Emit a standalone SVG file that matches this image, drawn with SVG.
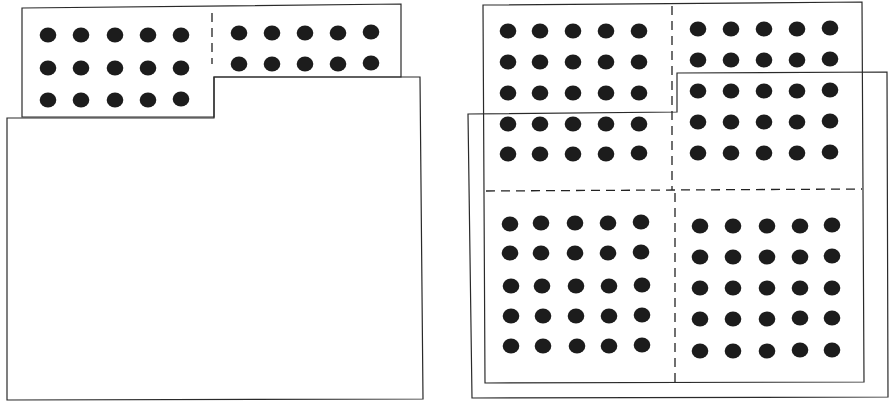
<svg xmlns="http://www.w3.org/2000/svg" xmlns:xlink="http://www.w3.org/1999/xlink" width="890" height="404" viewBox="0 0 890 404">
<style>
.sheet{fill:none;stroke:#2a2a2a;stroke-width:1.2;stroke-linejoin:miter}
.dash{fill:none;stroke:#222;stroke-width:1.3;stroke-dasharray:9 6}
.dot{fill:#1c1c1c}
</style>
<defs>
<ellipse id="d" class="dot" cx="0" cy="0" rx="8.3" ry="7.5"/>
</defs>
<rect width="890" height="404" fill="#ffffff"/>
<g id="left-panel">
<g id="left-lower-sheet">
<polygon class="sheet" points="7,118 214,118 214,77 420,77 423,399 7,400"/>
</g>
<g id="left-upper-sheet">
<polygon class="sheet" points="22,8 401,4 401,77 214,77 214,117 22,117"/>
<line class="dash" x1="212" y1="13" x2="212" y2="64"/>
</g>
<g id="left-dots-a">
<use href="#d" x="48" y="35"/><use href="#d" x="81" y="35"/><use href="#d" x="115" y="35"/><use href="#d" x="148" y="35"/><use href="#d" x="181" y="35"/>
<use href="#d" x="48" y="68"/><use href="#d" x="81" y="68"/><use href="#d" x="115" y="68"/><use href="#d" x="148" y="68"/><use href="#d" x="181" y="68"/>
<use href="#d" x="48" y="100"/><use href="#d" x="81" y="100"/><use href="#d" x="115" y="100"/><use href="#d" x="148" y="100"/><use href="#d" x="181" y="99"/>
</g>
<g id="left-dots-b">
<use href="#d" x="239" y="33"/><use href="#d" x="272" y="33"/><use href="#d" x="305" y="33"/><use href="#d" x="338" y="33"/><use href="#d" x="371" y="32"/>
<use href="#d" x="239" y="64"/><use href="#d" x="272" y="64"/><use href="#d" x="305" y="64"/><use href="#d" x="338" y="64"/><use href="#d" x="371" y="63"/>
</g>
</g>
<g id="right-panel">
<g id="right-sheet">
<polygon class="sheet" points="483,5 862,2 864,382 485,383"/>
<line class="dash" x1="672" y1="6" x2="672" y2="190"/>
<line class="dash" x1="675" y1="193" x2="675" y2="382"/>
<line class="dash" x1="486" y1="191" x2="862" y2="189"/>
</g>
<g id="right-overlay-sheet">
<polygon class="sheet" points="468,114 677,112 677,73 887,72 888,397 472,398"/>
</g>
<g id="right-dots-tl">
<use href="#d" x="508" y="31"/><use href="#d" x="540" y="31"/><use href="#d" x="573" y="31"/><use href="#d" x="606" y="31"/><use href="#d" x="639" y="31"/>
<use href="#d" x="508" y="62"/><use href="#d" x="540" y="62"/><use href="#d" x="573" y="62"/><use href="#d" x="606" y="62"/><use href="#d" x="639" y="62"/>
<use href="#d" x="508" y="93"/><use href="#d" x="540" y="93"/><use href="#d" x="573" y="93"/><use href="#d" x="606" y="93"/><use href="#d" x="639" y="93"/>
<use href="#d" x="508" y="124"/><use href="#d" x="540" y="124"/><use href="#d" x="573" y="124"/><use href="#d" x="606" y="124"/><use href="#d" x="639" y="124"/>
<use href="#d" x="508" y="154"/><use href="#d" x="540" y="154"/><use href="#d" x="573" y="154"/><use href="#d" x="606" y="154"/><use href="#d" x="639" y="153"/>
</g>
<g id="right-dots-tr">
<use href="#d" x="698" y="29"/><use href="#d" x="731" y="29"/><use href="#d" x="764" y="29"/><use href="#d" x="797" y="29"/><use href="#d" x="830" y="28"/>
<use href="#d" x="698" y="60"/><use href="#d" x="731" y="60"/><use href="#d" x="764" y="60"/><use href="#d" x="797" y="60"/><use href="#d" x="830" y="59"/>
<use href="#d" x="698" y="91"/><use href="#d" x="731" y="91"/><use href="#d" x="764" y="91"/><use href="#d" x="797" y="91"/><use href="#d" x="830" y="90"/>
<use href="#d" x="698" y="122"/><use href="#d" x="731" y="122"/><use href="#d" x="764" y="122"/><use href="#d" x="797" y="122"/><use href="#d" x="830" y="121"/>
<use href="#d" x="698" y="153"/><use href="#d" x="731" y="153"/><use href="#d" x="764" y="153"/><use href="#d" x="797" y="153"/><use href="#d" x="830" y="152"/>
</g>
<g id="right-dots-bl">
<use href="#d" x="510" y="224"/><use href="#d" x="541" y="223"/><use href="#d" x="575" y="223"/><use href="#d" x="608" y="223"/><use href="#d" x="641" y="222"/>
<use href="#d" x="510" y="253"/><use href="#d" x="541" y="253"/><use href="#d" x="575" y="253"/><use href="#d" x="608" y="253"/><use href="#d" x="641" y="252"/>
<use href="#d" x="511" y="286"/><use href="#d" x="542" y="286"/><use href="#d" x="576" y="286"/><use href="#d" x="609" y="286"/><use href="#d" x="642" y="285"/>
<use href="#d" x="511" y="316"/><use href="#d" x="543" y="316"/><use href="#d" x="576" y="316"/><use href="#d" x="609" y="316"/><use href="#d" x="642" y="315"/>
<use href="#d" x="511" y="346"/><use href="#d" x="543" y="346"/><use href="#d" x="577" y="346"/><use href="#d" x="609" y="346"/><use href="#d" x="642" y="345"/>
</g>
<g id="right-dots-br">
<use href="#d" x="700" y="226"/><use href="#d" x="733" y="226"/><use href="#d" x="767" y="226"/><use href="#d" x="800" y="226"/><use href="#d" x="832" y="225"/>
<use href="#d" x="700" y="257"/><use href="#d" x="733" y="257"/><use href="#d" x="767" y="257"/><use href="#d" x="800" y="257"/><use href="#d" x="832" y="256"/>
<use href="#d" x="700" y="288"/><use href="#d" x="733" y="288"/><use href="#d" x="767" y="288"/><use href="#d" x="800" y="288"/><use href="#d" x="832" y="288"/>
<use href="#d" x="700" y="319"/><use href="#d" x="733" y="319"/><use href="#d" x="767" y="319"/><use href="#d" x="800" y="318"/><use href="#d" x="832" y="318"/>
<use href="#d" x="700" y="351"/><use href="#d" x="733" y="351"/><use href="#d" x="767" y="351"/><use href="#d" x="800" y="350"/><use href="#d" x="832" y="350"/>
</g>
</g>
</svg>
